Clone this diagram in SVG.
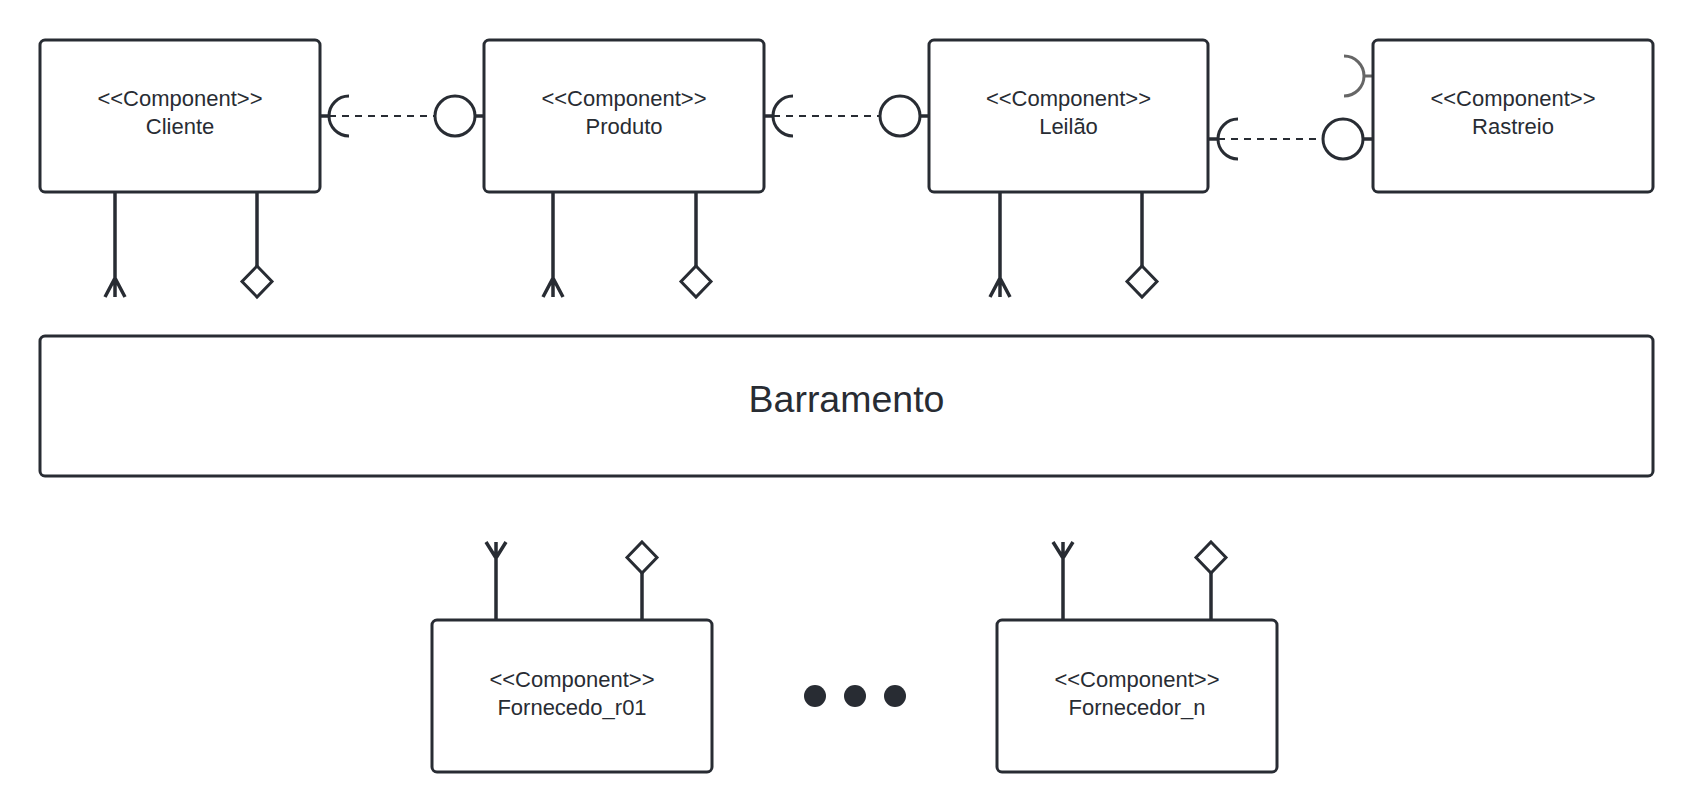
<svg xmlns="http://www.w3.org/2000/svg" width="1694" height="812" viewBox="0 0 1694 812">
<style>
.box{fill:#fff;stroke:#282c33;stroke-width:3}
.t{font-family:"Liberation Sans",Arial,sans-serif;font-size:22px;fill:#282c33;text-anchor:middle}
.big{font-size:37.5px}
.ln{fill:none;stroke:#282c33;stroke-width:3.5}
.ifc{fill:#fff;stroke:#282c33;stroke-width:3}
.dash{fill:none;stroke:#282c33;stroke-width:2;stroke-dasharray:7 6}
.gray{fill:none;stroke:#666;stroke-width:3}
.dot{fill:#282c33}
</style>
<rect width="1694" height="812" fill="#fff"/>
<g id="connectors">
  <line class="ln" x1="320" y1="116" x2="329" y2="116"/>
  <path class="ifc" d="M349,96 A20,20 0 0 0 349,136" style="fill:none"/>
  <line class="dash" x1="329" y1="116" x2="435" y2="116"/>
  <circle class="ifc" cx="455" cy="116" r="20"/>
  <line class="ln" x1="475" y1="116" x2="484" y2="116"/>
  <line class="ln" x1="764" y1="116" x2="773" y2="116"/>
  <path class="ifc" d="M793,96 A20,20 0 0 0 793,136" style="fill:none"/>
  <line class="dash" x1="773" y1="116" x2="880" y2="116"/>
  <circle class="ifc" cx="900" cy="116" r="20"/>
  <line class="ln" x1="920" y1="116" x2="929" y2="116"/>
  <line class="ln" x1="1208" y1="139" x2="1218" y2="139"/>
  <path class="ifc" d="M1238,119 A20,20 0 0 0 1238,159" style="fill:none"/>
  <line class="dash" x1="1218" y1="139" x2="1323" y2="139"/>
  <circle class="ifc" cx="1343" cy="139" r="20"/>
  <line class="ln" x1="1363" y1="139" x2="1373" y2="139"/>
  <line class="gray" x1="1364" y1="76" x2="1373" y2="76"/>
  <path class="gray" d="M1344,56 A20,20 0 0 1 1344,96"/>
  <g class="ln">
    <path d="M115,192 V297 M115,278 L105,297 M115,278 L125,297"/>
    <path d="M553,192 V297 M553,278 L543,297 M553,278 L563,297"/>
    <path d="M1000,192 V297 M1000,278 L990,297 M1000,278 L1010,297"/>
    <path d="M257,192 V266"/>
    <path d="M696,192 V266"/>
    <path d="M1142,192 V266"/>
    <path d="M496,620 V542 M496,558 L486,542 M496,558 L506,542"/>
    <path d="M1063,620 V542 M1063,558 L1053,542 M1063,558 L1073,542"/>
    <path d="M642,620 V573"/>
    <path d="M1211,620 V573"/>
  </g>
  <g class="ifc">
    <path d="M257,266 L272,281.5 L257,297 L242,281.5 Z"/>
    <path d="M696,266 L711,281.5 L696,297 L681,281.5 Z"/>
    <path d="M1142,266 L1157,281.5 L1142,297 L1127,281.5 Z"/>
    <path d="M642,542 L657,557.5 L642,573 L627,557.5 Z"/>
    <path d="M1211,542 L1226,557.5 L1211,573 L1196,557.5 Z"/>
  </g>
</g>
<g id="cliente">
  <rect class="box" x="40" y="40" width="280" height="152" rx="5"/>
  <text class="t" x="180" y="106">&lt;&lt;Component&gt;&gt;</text>
  <text class="t" x="180" y="134">Cliente</text>
</g>
<g id="produto">
  <rect class="box" x="484" y="40" width="280" height="152" rx="5"/>
  <text class="t" x="624" y="106">&lt;&lt;Component&gt;&gt;</text>
  <text class="t" x="624" y="134">Produto</text>
</g>
<g id="leilao">
  <rect class="box" x="929" y="40" width="279" height="152" rx="5"/>
  <text class="t" x="1068.5" y="106">&lt;&lt;Component&gt;&gt;</text>
  <text class="t" x="1068.5" y="134">Leilão</text>
</g>
<g id="rastreio">
  <rect class="box" x="1373" y="40" width="280" height="152" rx="5"/>
  <text class="t" x="1513" y="106">&lt;&lt;Component&gt;&gt;</text>
  <text class="t" x="1513" y="134">Rastreio</text>
</g>
<g id="barramento">
  <rect class="box" x="40" y="336" width="1613" height="140" rx="5"/>
  <text class="t big" x="846.5" y="412">Barramento</text>
</g>
<g id="fornecedor01">
  <rect class="box" x="432" y="620" width="280" height="152" rx="5"/>
  <text class="t" x="572" y="687">&lt;&lt;Component&gt;&gt;</text>
  <text class="t" x="572" y="715">Fornecedo_r01</text>
</g>
<g id="ellipsis">
  <circle class="dot" cx="815" cy="696" r="11"/>
  <circle class="dot" cx="855" cy="696" r="11"/>
  <circle class="dot" cx="895" cy="696" r="11"/>
</g>
<g id="fornecedorn">
  <rect class="box" x="997" y="620" width="280" height="152" rx="5"/>
  <text class="t" x="1137" y="687">&lt;&lt;Component&gt;&gt;</text>
  <text class="t" x="1137" y="715">Fornecedor_n</text>
</g>
</svg>
